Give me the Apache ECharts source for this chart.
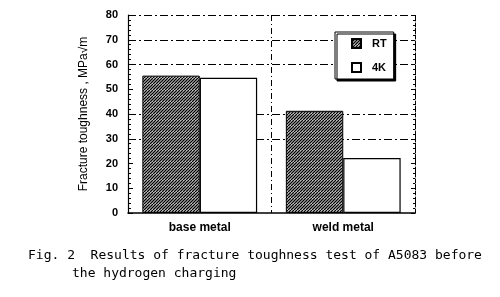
<!DOCTYPE html>
<html><head><meta charset="utf-8">
<script src="https://cdn.jsdelivr.net/npm/echarts@6/dist/echarts.min.js"></script>
<style>html,body{margin:0;padding:0;background:#fff}#c{width:500px;height:297px}</style>
</head><body><div id="c"></div>
<script>
var categories = ['base metal', 'weld metal'];
var seriesNames = ['RT', '4K'];
var rtValues = [55.5, 41.3];
var k4Values = [54.6, 22.2];
var yTicks = [0, 10, 20, 30, 40, 50, 60, 70, 80];
var captionLines = ['Fig. 2  Results of fracture toughness test of A5083 before', 'the hydrogen charging'];

var cv = document.createElement('canvas');
cv.width = 6; cv.height = 6;
var g = cv.getContext('2d');
g.fillStyle = '#fff'; g.fillRect(0, 0, 6, 6);
g.strokeStyle = '#000'; g.lineWidth = 1.4;
for (var c = -6; c <= 18; c += 3) { g.beginPath(); g.moveTo(c, 0); g.lineTo(c - 6, 6); g.stroke(); }
var hatch = { image: cv, repeat: 'repeat' };

var chart = echarts.init(document.getElementById('c'), null, { renderer: 'canvas' });
var gridColors = yTicks.map(function(v){ return (v === 30 || v === 40 || v === 60 || v === 70 || v === 80) ? '#000' : 'rgba(0,0,0,0)'; });
chart.setOption({
  animation: false,
  backgroundColor: '#fff',
  grid: { left: 128, right: 85, top: 15, bottom: 84 },
  legend: {
    left: 335, top: 32, orient: 'vertical',
    data: seriesNames, icon: 'rect',
    itemWidth: 9, itemHeight: 9, itemGap: 13,
    padding: [6, 7, 6, 16],
    borderColor: '#000', borderWidth: 1, borderRadius: 0,
    backgroundColor: '#fff',
    shadowColor: '#000', shadowOffsetX: 2, shadowOffsetY: 2, shadowBlur: 0.1,
    textStyle: { fontFamily: 'Liberation Sans', fontWeight: 'bold', fontSize: 11, color: '#000', padding: [0, 0, 0, 6] }
  },
  xAxis: {
    type: 'category', data: categories,
    axisLine: { lineStyle: { color: '#000', width: 1.5 } },
    axisTick: { show: false },
    axisLabel: { margin: 9, fontFamily: 'Liberation Sans', fontWeight: 'bold', fontSize: 12, color: '#000' },
    splitLine: { show: true, lineStyle: { color: '#000', type: [6, 3, 1, 3], width: 1 } }
  },
  yAxis: [{
    type: 'value', min: 0, max: 80, interval: 10,
    name: 'Fracture toughness , MPa√m', nameLocation: 'middle', nameGap: 38,
    nameTextStyle: { fontFamily: 'Liberation Sans', fontSize: 12, color: '#000' },
    axisLine: { show: true, lineStyle: { color: '#000', width: 1.2 } },
    axisTick: { show: true, inside: true, length: 5, lineStyle: { color: '#000' } },
    minorTick: { show: true, splitNumber: 5, length: 3, lineStyle: { color: '#000' } },
    axisLabel: { margin: 10, fontFamily: 'Liberation Sans', fontWeight: 'bold', fontSize: 11, color: '#000' },
    splitLine: { show: true, lineStyle: { color: gridColors, type: [8, 3, 2, 3], width: 1 } }
  }, {
    type: 'value', min: 0, max: 80, interval: 10, position: 'right',
    axisLine: { show: true, lineStyle: { color: '#000', width: 1, type: [4, 2] } },
    axisTick: { show: true, inside: true, length: 4, lineStyle: { color: '#000' } },
    minorTick: { show: true, splitNumber: 5, length: 2, lineStyle: { color: '#000' } },
    axisLabel: { show: false }, splitLine: { show: false }
  }],
  series: [{
    name: seriesNames[0], type: 'bar', data: rtValues, barWidth: '40%', barGap: '0%',
    itemStyle: { color: hatch, borderColor: '#000', borderWidth: 1 }
  }, {
    name: seriesNames[1], type: 'bar', data: k4Values, barWidth: '40%',
    itemStyle: { color: '#fff', borderColor: '#000', borderWidth: 1.2 }
  }],
  graphic: [
    { type: 'text', left: 28, top: 249, style: { text: captionLines[0], font: '13px "DejaVu Sans Mono"', fill: '#000' } },
    { type: 'text', left: 72, top: 267, style: { text: captionLines[1], font: '13px "DejaVu Sans Mono"', fill: '#000' } }
  ]
});
</script></body></html>
